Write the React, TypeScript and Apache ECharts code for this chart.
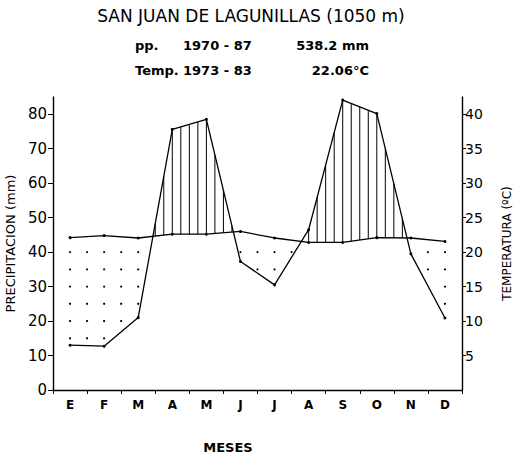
import React, { useEffect, useRef } from "react";
import * as echarts from "echarts";

const months = ["E", "F", "M", "A", "M", "J", "J", "A", "S", "O", "N", "D"];
const precipitation = [13, 12.7, 21, 75.6, 78.5, 37.3, 30.5, 46.5, 84.1, 80.2, 39.5, 20.9];
const temperature = [22.1, 22.4, 22.05, 22.6, 22.6, 23.0, 22.05, 21.4, 21.4, 22.1, 22.05, 21.55];
const precipTicks = [0, 10, 20, 30, 40, 50, 60, 70, 80];
const tempTicks = [5, 10, 15, 20, 25, 30, 35, 40];

const FONT = "DejaVu Sans";

export default function App() {
  const ref = useRef<HTMLDivElement>(null);
  useEffect(() => {
    if (!ref.current) return;
    const chart = echarts.init(ref.current, null, { renderer: "svg" });
    const n = precipitation.length;
    const renderItem = (params: any, api: any) => {
      const children: any[] = [];
      const yOf = (v: number) => api.coord([0, v])[1];
      const xOf = (i: number) => api.coord([i, 0])[0];
      const steps = 4;
      for (let i = 0; i < n; i++) {
        for (let q = 0; q < steps; q++) {
          if (i === n - 1 && q > 0) break;
          const f = q / steps;
          const j = Math.min(i + 1, n - 1);
          const p = precipitation[i] + (precipitation[j] - precipitation[i]) * f;
          const t = (temperature[i] + (temperature[j] - temperature[i]) * f) * 2;
          const x = xOf(i) + (xOf(j) - xOf(i)) * f;
          if (p - t > 1.5) {
            children.push({
              type: "line",
              shape: { x1: x, y1: yOf(t), x2: x, y2: yOf(p) },
              style: { stroke: "#000", lineWidth: 1 },
            });
          }
          if (q % 2 === 0 && t > p) {
            for (let v = 5; v < t - 1; v += 5) {
              if (v > p + 1) {
                children.push({
                  type: "circle",
                  shape: { cx: x, cy: yOf(v), r: 1.1 },
                  style: { fill: "#000" },
                });
              }
            }
          }
        }
      }
      return { type: "group", children };
    };
    const axisCommon = {
      axisLine: { show: true, lineStyle: { color: "#000", width: 1.4 } },
      splitLine: { show: false },
    };
    chart.setOption({
      animation: false,
      backgroundColor: "#fff",
      grid: { left: 53, right: 52, top: 97, bottom: 64, containLabel: false, outerBoundsMode: "none" },
      graphic: [
        {
          type: "text",
          x: 251,
          y: 16,
          style: {
            text: "SAN JUAN DE LAGUNILLAS (1050 m)",
            font: `17px '${FONT}'`,
            fill: "#000",
            textAlign: "center",
            textVerticalAlign: "middle",
          },
        },
        {
          type: "text",
          x: 135,
          y: 45,
          style: { text: "pp.", font: `bold 13px '${FONT}'`, fill: "#000", textVerticalAlign: "middle" },
        },
        {
          type: "text",
          x: 183,
          y: 45,
          style: { text: "1970 - 87", font: `bold 13px '${FONT}'`, fill: "#000", textVerticalAlign: "middle" },
        },
        {
          type: "text",
          x: 369,
          y: 45,
          style: {
            text: "538.2 mm",
            font: `bold 13px '${FONT}'`,
            fill: "#000",
            textAlign: "right",
            textVerticalAlign: "middle",
          },
        },
        {
          type: "text",
          x: 135,
          y: 70,
          style: { text: "Temp.", font: `bold 13px '${FONT}'`, fill: "#000", textVerticalAlign: "middle" },
        },
        {
          type: "text",
          x: 183,
          y: 70,
          style: { text: "1973 - 83", font: `bold 13px '${FONT}'`, fill: "#000", textVerticalAlign: "middle" },
        },
        {
          type: "text",
          x: 369,
          y: 70,
          style: {
            text: "22.06°C",
            font: `bold 13px '${FONT}'`,
            fill: "#000",
            textAlign: "right",
            textVerticalAlign: "middle",
          },
        },
        {
          type: "text",
          x: 228,
          y: 447,
          style: {
            text: "MESES",
            font: `bold 13px '${FONT}'`,
            fill: "#000",
            textAlign: "center",
            textVerticalAlign: "middle",
          },
        },
      ],
      xAxis: {
        type: "category",
        data: months,
        boundaryGap: true,
        axisLine: { show: true, lineStyle: { color: "#000", width: 1.4 } },
        axisTick: { show: true, length: 4, lineStyle: { color: "#000" } },
        axisLabel: { color: "#000", fontWeight: "bold", fontSize: 12, margin: 9, fontFamily: FONT },
      },
      yAxis: [
        {
          type: "value",
          position: "left",
          min: 0,
          max: 85,
          ...axisCommon,
          axisTick: { show: true, customValues: precipTicks, length: 5, lineStyle: { color: "#000" } },
          axisLabel: { customValues: precipTicks, color: "#000", fontSize: 15, margin: 6, fontFamily: FONT },
          name: "PRECIPITACION (mm)",
          nameLocation: "middle",
          nameRotate: 90,
          nameGap: 33,
          nameTextStyle: { color: "#000", fontSize: 13, fontFamily: FONT },
        },
        {
          type: "value",
          position: "right",
          min: 0,
          max: 42.5,
          ...axisCommon,
          axisTick: { show: true, customValues: tempTicks, length: 4, lineStyle: { color: "#000" } },
          axisLabel: { customValues: tempTicks, color: "#000", fontSize: 14, margin: 3, fontFamily: FONT },
          name: "TEMPERATURA (ºC)",
          nameLocation: "middle",
          nameRotate: 90,
          nameGap: 39,
          nameTextStyle: { color: "#000", fontSize: 12, fontFamily: FONT },
        },
      ],
      series: [
        {
          type: "custom",
          xAxisIndex: 0,
          yAxisIndex: 0,
          data: [[0, 0]],
          renderItem,
          silent: true,
          z: 1,
        },
        {
          type: "line",
          yAxisIndex: 0,
          data: precipitation,
          symbol: "circle",
          symbolSize: 3,
          itemStyle: { color: "#000" },
          lineStyle: { color: "#000", width: 1.3 },
          z: 3,
        },
        {
          type: "line",
          yAxisIndex: 1,
          data: temperature,
          symbol: "circle",
          symbolSize: 3,
          itemStyle: { color: "#000" },
          lineStyle: { color: "#000", width: 1.3 },
          z: 3,
        },
      ],
    });
    return () => chart.dispose();
  }, []);
  return <div ref={ref} style={{ position: "fixed", left: 0, top: 0, width: 514, height: 454 }} />;
}
